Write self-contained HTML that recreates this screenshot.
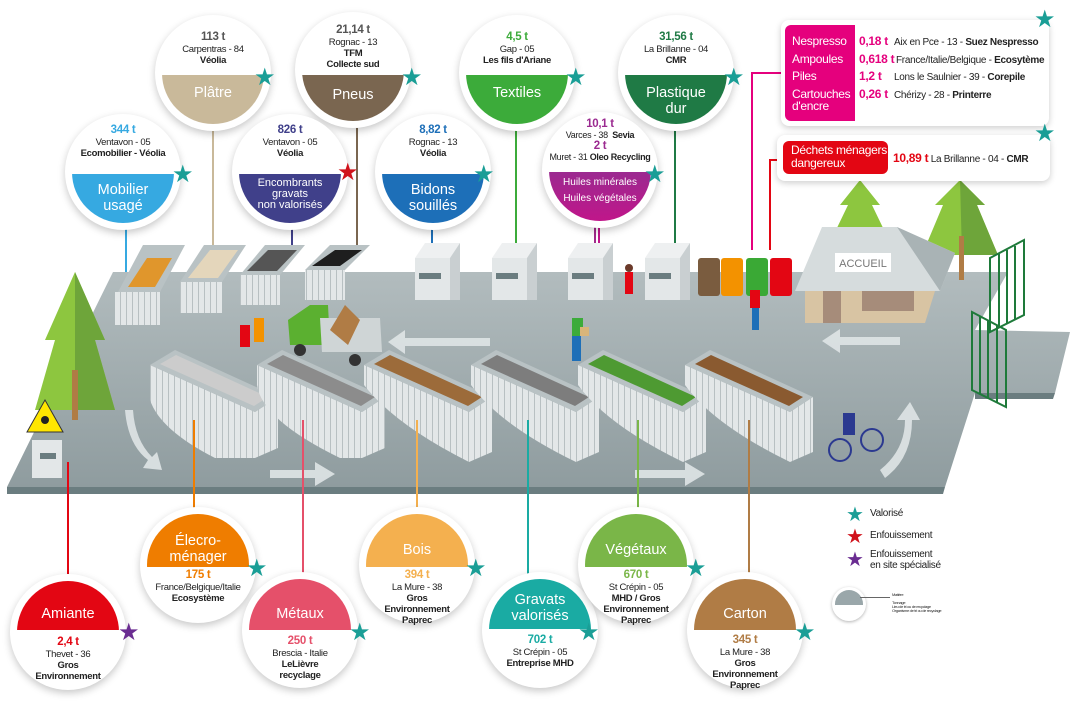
<!DOCTYPE html>
<html><head><meta charset="utf-8">
<style>
*{margin:0;padding:0;box-sizing:border-box}
body{width:1070px;height:705px;background:#fff;position:relative;overflow:hidden;font-family:"Liberation Sans",sans-serif;color:#222}
svg.bg{position:absolute;left:0;top:0}
.c{position:absolute;width:116px;height:116px;border-radius:50%;background:#fff;box-shadow:0 3px 8px rgba(0,0,0,.22)}
.in{position:absolute;left:7px;top:7px;width:102px;height:102px;border-radius:50%}
.tx{position:absolute;left:0;width:116px;text-align:center;font-size:9.5px;line-height:11px;letter-spacing:-.3px}
.tx b.t{font-size:11.5px;display:block;line-height:13px}
.lb{position:absolute;left:0;width:116px;text-align:center;color:#fff;font-size:14.5px;line-height:16px}
.st{position:absolute;font-size:24px;line-height:24px;color:#1a9e96}
.box{position:absolute;background:#fff;border-radius:8px;box-shadow:0 2px 7px rgba(0,0,0,.2)}
.row{position:absolute;font-size:10px;white-space:nowrap;letter-spacing:-.3px}
</style></head><body>
<svg class="bg" width="1070" height="705" viewBox="0 0 1070 705">
<defs>
<linearGradient id="pl" x1="0" y1="0" x2="0" y2="1"><stop offset="0" stop-color="#b2bcbe"/><stop offset="1" stop-color="#8f9c9f"/></linearGradient>
<pattern id="str" width="6" height="10" patternUnits="userSpaceOnUse"><rect width="6" height="10" fill="#e3e7e8"/><rect width="1" height="10" fill="#b8c0c2"/></pattern>
</defs>
<g stroke-width="2" fill="none">
<line x1="126" y1="225" x2="126" y2="288" stroke="#36a9e1"/>
<line x1="213" y1="128" x2="213" y2="270" stroke="#c9b99a"/>
<line x1="292" y1="225" x2="292" y2="250" stroke="#40408a"/>
<line x1="357" y1="128" x2="357" y2="252" stroke="#7a6650"/>
<line x1="432" y1="225" x2="432" y2="258" stroke="#1d6fb8"/>
<line x1="516" y1="128" x2="516" y2="252" stroke="#3cab3a"/>
<line x1="595" y1="218" x2="595" y2="250" stroke="#a02a8a"/>
<line x1="599" y1="218" x2="599" y2="250" stroke="#c0168a"/>
<line x1="675" y1="128" x2="675" y2="252" stroke="#1f7a45"/>
<polyline points="785,73 752,73 752,250" stroke="#e5007d"/>
<polyline points="783,160 770,160 770,250" stroke="#e30613"/>
</g>
<polygon points="113,272 1008,272 975,330 1070,332 1055,393 975,393 945,487 7,487" fill="url(#pl)"/>
<polygon points="7,487 945,487 943,494 7,494" fill="#6b7d80"/>
<polygon points="975,393 1055,393 1053,399 975,399" fill="#6b7d80"/>
<g fill="#dfe4e5" opacity=".9">
<polygon points="490,338 405,338 405,330 388,342 405,354 405,346 490,346"/>
<polygon points="900,337 840,337 840,329 822,341 840,353 840,345 900,345"/>
<polygon points="270,470 315,470 315,462 335,474 315,486 315,478 270,478"/>
<polygon points="635,470 685,470 685,462 705,474 685,486 685,478 635,478"/>
<path d="M125,410 Q128,445 148,460 L143,468 L162,470 L157,452 L152,457 Q135,440 133,410Z"/>
<path d="M880,470 Q905,450 905,420 L897,420 L910,402 L920,420 L912,420 Q912,458 885,478Z"/>
</g>
<polygon points="75,272 105,340 95,340 115,410 35,410 55,340 45,340" fill="#8dc63f"/>
<polygon points="75,272 105,340 95,340 115,410 75,410" fill="#6ea53a"/>
<rect x="72" y="370" width="6" height="50" fill="#b07c45"/>
<rect x="32" y="440" width="30" height="38" fill="#e3e7e8"/><rect x="40" y="453" width="16" height="6" fill="#6b7d80"/>
<polygon points="45,400 63,432 27,432" fill="#ffe600" stroke="#333" stroke-width="1"/>
<circle cx="45" cy="420" r="4" fill="#222"/>
<polygon points="860,180 880,205 872,205 885,232 835,232 848,205 840,205" fill="#8dc63f"/>
<polygon points="960,180 985,205 977,205 998,255 922,255 943,205 935,205" fill="#8dc63f"/>
<polygon points="960,180 985,205 977,205 998,255 962,255" fill="#6ea53a"/>
<rect x="959" y="236" width="5" height="44" fill="#b07c45"/>
<polygon points="822,227 897,227 955,253 940,291 795,291" fill="#d6dcdd"/>
<polygon points="897,227 955,253 940,291" fill="#a9b3b5"/>
<polygon points="805,291 935,291 925,323 805,323" fill="#d8c4a3"/>
<rect x="823" y="291" width="18" height="32" fill="#a68c7a"/><rect x="862" y="291" width="52" height="20" fill="#a68c7a"/>
<rect x="835" y="253" width="56" height="19" fill="#fff"/>
<text x="863" y="267" font-size="11" fill="#777" text-anchor="middle" font-family="Liberation Sans">ACCUEIL</text>
<g stroke="#1e7a3a" stroke-width="2" fill="none">
<polygon points="990,258 1024,240 1024,315 990,332"/>
<line x1="999" y1="254" x2="999" y2="328"/><line x1="1007" y1="250" x2="1007" y2="324"/><line x1="1015" y1="246" x2="1015" y2="320"/>
<polygon points="972,312 1006,330 1006,407 972,390"/>
<line x1="980" y1="316" x2="980" y2="394"/><line x1="988" y1="320" x2="988" y2="398"/><line x1="997" y1="325" x2="997" y2="403"/>
</g>
<g>
<polygon points="115,292 160,292 160,325 115,325" fill="url(#str)"/><polygon points="118,292 160,292 185,245 143,245" fill="#b9c2c4"/><polygon points="128,287 155,287 172,258 147,258" fill="#e0962c"/>
<polygon points="180,282 222,282 222,313 180,313" fill="url(#str)"/><polygon points="180,282 222,282 246,245 204,245" fill="#b9c2c4"/><polygon points="188,278 218,278 238,250 210,250" fill="#e4d6bb"/>
<polygon points="240,275 280,275 280,305 240,305" fill="url(#str)"/><polygon points="240,275 280,275 305,245 265,245" fill="#b9c2c4"/><polygon points="247,271 277,271 297,250 268,250" fill="#555"/>
<polygon points="305,270 345,270 345,300 305,300" fill="url(#str)"/><polygon points="305,270 345,270 370,245 330,245" fill="#b9c2c4"/><polygon points="312,266 340,266 362,250 335,250" fill="#1e1e1e"/>
</g>
<g>
<rect x="415" y="258" width="35" height="42" fill="#e3e7e8"/><rect x="450" y="243" width="10" height="57" fill="#c9cfd1"/><polygon points="415,258 425,243 460,243 450,258" fill="#eef0f1"/><rect x="419" y="273" width="22" height="6" fill="#6b7d80"/>
<rect x="492" y="258" width="35" height="42" fill="#e3e7e8"/><rect x="527" y="243" width="10" height="57" fill="#c9cfd1"/><polygon points="492,258 502,243 537,243 527,258" fill="#eef0f1"/><rect x="496" y="273" width="22" height="6" fill="#6b7d80"/>
<rect x="568" y="258" width="35" height="42" fill="#e3e7e8"/><rect x="603" y="243" width="10" height="57" fill="#c9cfd1"/><polygon points="568,258 578,243 613,243 603,258" fill="#eef0f1"/><rect x="572" y="273" width="22" height="6" fill="#6b7d80"/>
<rect x="645" y="258" width="35" height="42" fill="#e3e7e8"/><rect x="680" y="243" width="10" height="57" fill="#c9cfd1"/><polygon points="645,258 655,243 690,243 680,258" fill="#eef0f1"/><rect x="649" y="273" width="22" height="6" fill="#6b7d80"/>
</g>
<rect x="698" y="258" width="22" height="38" rx="3" fill="#7a5c3f"/>
<rect x="721" y="258" width="22" height="38" rx="3" fill="#f39200"/>
<rect x="746" y="258" width="22" height="38" rx="3" fill="#3aa935"/>
<rect x="770" y="258" width="22" height="38" rx="3" fill="#e30613"/>
<rect x="625" y="272" width="8" height="22" fill="#e30613"/><circle cx="629" cy="268" r="4" fill="#6b3a2a"/>
<rect x="750" y="290" width="10" height="18" fill="#e30613"/><rect x="752" y="308" width="7" height="22" fill="#1d6fb8"/>
<rect x="572" y="318" width="11" height="18" fill="#3cab3a"/><rect x="572" y="336" width="9" height="25" fill="#1d6fb8"/><rect x="580" y="327" width="9" height="9" fill="#d8b57a"/>
<rect x="240" y="325" width="10" height="22" fill="#e30613"/><rect x="254" y="318" width="10" height="24" fill="#f39200"/>
<polygon points="288,320 310,305 328,305 330,345 290,345" fill="#5bb030"/><polygon points="320,318 380,318 382,352 322,352" fill="#cfd5d6"/><polygon points="330,330 345,305 360,320 348,345" fill="#b07c45"/>
<circle cx="300" cy="350" r="6" fill="#333"/><circle cx="355" cy="360" r="6" fill="#333"/>
<circle cx="840" cy="450" r="11" fill="none" stroke="#2b3990" stroke-width="2"/><circle cx="872" cy="440" r="11" fill="none" stroke="#2b3990" stroke-width="2"/><rect x="843" y="413" width="12" height="22" fill="#2b3990"/>
<g>
<path d="M150,365 L255,412 L278,397 L278,448 L255,458 L215,458 Q160,430 150,400 Z" fill="url(#str)"/>
<polygon points="150,365 175,350 278,397 255,412" fill="#b9c2c4"/><polygon points="160,364 176,355 268,397 254,406" fill="#ccc"/>
<path d="M257,365 L362,412 L385,397 L385,448 L362,458 L340,458 Q262,420 257,385 Z" fill="url(#str)"/>
<polygon points="257,365 282,350 385,397 362,412" fill="#b9c2c4"/><polygon points="267,364 283,355 375,397 361,406" fill="#8c8c8c"/>
<path d="M364,365 L469,412 L492,397 L492,452 L469,462 Q395,425 364,385 Z" fill="url(#str)"/>
<polygon points="364,365 389,350 492,397 469,412" fill="#b9c2c4"/><polygon points="374,364 390,355 482,397 468,406" fill="#9c6b3a"/>
<path d="M471,365 L576,412 L599,397 L599,452 L576,462 Q500,425 471,385 Z" fill="url(#str)"/>
<polygon points="471,365 496,350 599,397 576,412" fill="#b9c2c4"/><polygon points="481,364 497,355 589,397 575,406" fill="#7d7d7d"/>
<path d="M578,365 L683,412 L706,397 L706,452 L683,462 Q607,425 578,385 Z" fill="url(#str)"/>
<polygon points="578,365 603,350 706,397 683,412" fill="#b9c2c4"/><polygon points="588,364 604,355 696,397 682,406" fill="#4e9a32"/>
<path d="M685,365 L790,412 L813,397 L813,452 L790,462 Q714,425 685,385 Z" fill="url(#str)"/>
<polygon points="685,365 710,350 813,397 790,412" fill="#b9c2c4"/><polygon points="695,364 711,355 803,397 789,406" fill="#8a5a30"/>
</g>
<g stroke-width="2">
<line x1="68" y1="462" x2="68" y2="578" stroke="#e30613"/>
<line x1="194" y1="420" x2="194" y2="510" stroke="#ef7d00"/>
<line x1="303" y1="420" x2="303" y2="575" stroke="#e5506a"/>
<line x1="417" y1="420" x2="417" y2="510" stroke="#f4b04f"/>
<line x1="528" y1="420" x2="528" y2="575" stroke="#1aaba3"/>
<line x1="638" y1="420" x2="638" y2="510" stroke="#7ab648"/>
<line x1="749" y1="420" x2="749" y2="575" stroke="#b07c45"/>
</g>
</svg>

<div class="c" style="left:155px;top:15px"><div class="in" style="background:linear-gradient(transparent 52%,#c9b99a 52%)"></div>
<div class="tx" style="top:16px"><b class="t" style="color:#555">113 t</b>Carpentras - 84<br><b>Véolia</b></div><div class="lb" style="top:70px">Plâtre</div></div>
<div class="c" style="left:295px;top:12px"><div class="in" style="background:linear-gradient(transparent 55%,#7a6650 55%)"></div>
<div class="tx" style="top:12px"><b class="t" style="color:#555">21,14 t</b>Rognac - 13<br><b>TFM<br>Collecte sud</b></div><div class="lb" style="top:75px">Pneus</div></div>
<div class="c" style="left:459px;top:15px"><div class="in" style="background:linear-gradient(transparent 52%,#3cab3a 52%)"></div>
<div class="tx" style="top:16px"><b class="t" style="color:#3cab3a">4,5 t</b>Gap - 05<br><b>Les fils d'Ariane</b></div><div class="lb" style="top:70px">Textiles</div></div>
<div class="c" style="left:618px;top:15px"><div class="in" style="background:linear-gradient(transparent 52%,#1f7a45 52%)"></div>
<div class="tx" style="top:16px"><b class="t" style="color:#1f7a45">31,56 t</b>La Brillanne - 04<br><b>CMR</b></div><div class="lb" style="top:70px">Plastique<br>dur</div></div>
<div class="c" style="left:65px;top:114px"><div class="in" style="background:linear-gradient(transparent 52%,#36a9e1 52%)"></div>
<div class="tx" style="top:10px"><b class="t" style="color:#36a9e1">344 t</b>Ventavon - 05<br><b>Ecomobilier - Véolia</b></div><div class="lb" style="top:68px">Mobilier<br>usagé</div></div>
<div class="c" style="left:232px;top:114px"><div class="in" style="background:linear-gradient(transparent 52%,#40408a 52%)"></div>
<div class="tx" style="top:10px"><b class="t" style="color:#40408a">826 t</b>Ventavon - 05<br><b>Véolia</b></div><div class="lb" style="top:64px;font-size:11px;line-height:11px">Encombrants<br>gravats<br>non valorisés</div></div>
<div class="c" style="left:375px;top:114px"><div class="in" style="background:linear-gradient(transparent 52%,#1d6fb8 52%)"></div>
<div class="tx" style="top:10px"><b class="t" style="color:#1d6fb8">8,82 t</b>Rognac - 13<br><b>Véolia</b></div><div class="lb" style="top:68px">Bidons<br>souillés</div></div>
<div class="c" style="left:542px;top:112px"><div class="in" style="background:linear-gradient(transparent 52%,#9b2a90 52%,#c0168a)"></div>
<div class="tx" style="top:7px;font-size:9px;line-height:10.5px"><b class="t" style="color:#9b2a90;line-height:11px">10,1 t</b>Varces - 38 &nbsp;<b>Sevia</b><b class="t" style="color:#9b2a90;line-height:11px">2 t</b>Muret - 31 <b>Oleo Recycling</b></div><div class="lb" style="top:63px;font-size:10px;line-height:16px">Huiles minérales<br>Huiles végétales</div></div>

<div class="st" style="left:254px;top:66px">★</div>
<div class="st" style="left:401px;top:66px">★</div>
<div class="st" style="left:565px;top:66px">★</div>
<div class="st" style="left:723px;top:66px">★</div>
<div class="st" style="left:172px;top:163px">★</div>
<div class="st" style="left:337px;top:161px;color:#d0121b">★</div>
<div class="st" style="left:473px;top:163px">★</div>
<div class="st" style="left:644px;top:163px">★</div>

<div class="box" style="left:781px;top:20px;width:268px;height:106px"></div>
<div style="position:absolute;left:785px;top:25px;width:70px;height:96px;background:#e5007d;border-radius:6px 0 0 6px"></div>
<div class="row" style="left:792px;top:33px;font-size:12px;color:#fff;line-height:17.5px">Nespresso<br>Ampoules<br>Piles<br>Cartouches</div>
<div class="row" style="left:792px;top:100px;font-size:12px;color:#fff;line-height:12px">d'encre</div>
<div class="row" style="left:859px;top:33px;font-size:12px;color:#e5007d;font-weight:bold;line-height:17.5px">0,18 t<br>0,618 t<br>1,2 t<br>0,26 t</div>
<div class="row" style="left:894px;top:34px;line-height:17.5px">Aix en Pce - 13 - <b>Suez Nespresso</b></div>
<div class="row" style="left:896px;top:51.5px;line-height:17.5px">France/Italie/Belgique - <b>Ecosytème</b></div>
<div class="row" style="left:894px;top:69px;line-height:17.5px">Lons le Saulnier - 39 - <b>Corepile</b></div>
<div class="row" style="left:894px;top:86.5px;line-height:17.5px">Chérizy - 28 - <b>Printerre</b></div>
<div class="box" style="left:777px;top:135px;width:273px;height:46px"></div>
<div style="position:absolute;left:783px;top:141px;width:105px;height:33px;background:#e30613;border-radius:6px"></div>
<div class="row" style="left:791px;top:144px;font-size:12px;color:#fff;line-height:13px">Déchets ménagers<br>dangereux</div>
<div class="row" style="left:893px;top:151px"><b style="color:#e30613;font-size:12px">10,89 t</b> La Brillanne - 04 - <b>CMR</b></div>
<div class="st" style="left:1034px;top:8px">★</div>
<div class="st" style="left:1034px;top:122px">★</div>

<div class="c" style="left:10px;top:574px"><div class="in" style="background:linear-gradient(#e30613 48%,transparent 48%)"></div>
<div class="lb" style="top:32px">Amiante</div><div class="tx" style="top:62px"><b class="t" style="color:#e30613">2,4 t</b>Thevet - 36<br><b>Gros<br>Environnement</b></div></div>
<div class="c" style="left:140px;top:507px"><div class="in" style="background:linear-gradient(#ef7d00 52%,transparent 52%)"></div>
<div class="lb" style="top:26px">Élecro-<br>ménager</div><div class="tx" style="top:62px"><b class="t" style="color:#ef7d00">175 t</b>France/Belgique/Italie<br><b>Ecosystème</b></div></div>
<div class="c" style="left:242px;top:572px"><div class="in" style="background:linear-gradient(#e5506a 50%,transparent 50%)"></div>
<div class="lb" style="top:34px">Métaux</div><div class="tx" style="top:63px"><b class="t" style="color:#e5506a">250 t</b>Brescia - Italie<br><b>LeLièvre<br>recyclage</b></div></div>
<div class="c" style="left:359px;top:507px"><div class="in" style="background:linear-gradient(#f4b04f 52%,transparent 52%)"></div>
<div class="lb" style="top:35px">Bois</div><div class="tx" style="top:62px"><b class="t" style="color:#f4b04f">394 t</b>La Mure - 38<br><b>Gros<br>Environnement<br>Paprec</b></div></div>
<div class="c" style="left:482px;top:572px"><div class="in" style="background:linear-gradient(#1aaba3 49%,transparent 49%)"></div>
<div class="lb" style="top:20px">Gravats<br>valorisés</div><div class="tx" style="top:62px"><b class="t" style="color:#1aaba3">702 t</b>St Crépin - 05<br><b>Entreprise MHD</b></div></div>
<div class="c" style="left:578px;top:507px"><div class="in" style="background:linear-gradient(#7ab648 52%,transparent 52%)"></div>
<div class="lb" style="top:35px">Végétaux</div><div class="tx" style="top:62px"><b class="t" style="color:#7ab648">670 t</b>St Crépin - 05<br><b>MHD / Gros<br>Environnement<br>Paprec</b></div></div>
<div class="c" style="left:687px;top:572px"><div class="in" style="background:linear-gradient(#b07c45 50%,transparent 50%)"></div>
<div class="lb" style="top:34px">Carton</div><div class="tx" style="top:62px"><b class="t" style="color:#b07c45">345 t</b>La Mure - 38<br><b>Gros<br>Environnement<br>Paprec</b></div></div>

<div class="st" style="left:118px;top:621px;color:#6a2c91">★</div>
<div class="st" style="left:246px;top:557px">★</div>
<div class="st" style="left:349px;top:621px">★</div>
<div class="st" style="left:465px;top:557px">★</div>
<div class="st" style="left:578px;top:621px">★</div>
<div class="st" style="left:685px;top:557px">★</div>
<div class="st" style="left:794px;top:621px">★</div>

<div class="st" style="left:846px;top:503px;font-size:20px">★</div>
<div class="st" style="left:846px;top:525px;font-size:20px;color:#d0121b">★</div>
<div class="st" style="left:846px;top:548px;font-size:20px;color:#6a2c91">★</div>
<div class="row" style="left:870px;top:508px">Valorisé</div>
<div class="row" style="left:870px;top:530px">Enfouissement</div>
<div class="row" style="left:870px;top:549px;line-height:11px">Enfouissement<br>en site spécialisé</div>
<div style="position:absolute;left:832px;top:587px;width:34px;height:34px;border-radius:50%;background:#fff;box-shadow:0 1px 3px rgba(0,0,0,.3);overflow:hidden"><div style="height:15px;background:#9aa7aa;margin:3px 3px 0;border-radius:14px 14px 0 0"></div></div>
<div style="position:absolute;left:860px;top:597px;width:30px;border-top:1px solid #666"></div>
<div class="row" style="left:892px;top:592px;font-size:4px">Matière</div>
<div class="row" style="left:892px;top:601px;font-size:4px;line-height:4px">Tonnage<br>Lieu de tri ou de recyclage<br>Organisme de tri ou de recyclage</div>
</body></html>
